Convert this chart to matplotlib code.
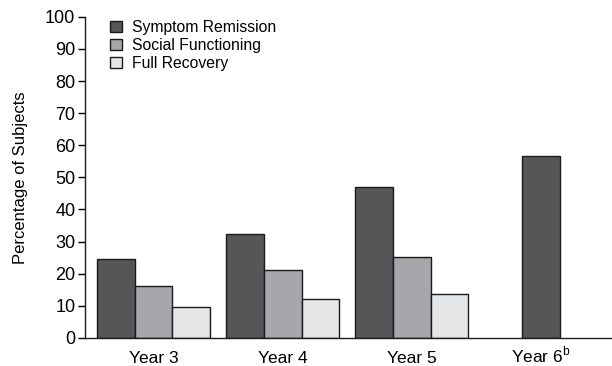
import numpy as np
import matplotlib
matplotlib.use('Agg')
import matplotlib.pyplot as plt

plt.rcParams['font.family'] = ['Liberation Sans', 'DejaVu Sans']
plt.rcParams['mathtext.fontset'] = 'custom'
plt.rcParams['mathtext.rm'] = 'Liberation Sans'

# data
years = ['Year 3', 'Year 4', 'Year 5', 'Year 6$^{\\rm b}$']
symptom = [24.7, 32.2, 47.0, 56.5]
social = [16.2, 21.2, 25.3, np.nan]
recovery = [9.7, 12.2, 13.6, np.nan]

series = [
    ('Symptom Remission', symptom, '#555658'),
    ('Social Functioning', social, '#a6a7aa'),
    ('Full Recovery', recovery, '#e4e5e7'),
]

fig = plt.figure(figsize=(6.12, 3.66), dpi=100)
ax = fig.add_axes([0.139, 0.077, 0.861, 0.877])

x = np.arange(len(years))
w = 0.292
for i, (name, vals, col) in enumerate(series):
    pos = x + (i - 1) * w
    # the last group only has one bar, keep it centred
    if i == 0:
        pos = pos.copy()
        pos[-1] = x[-1]
    ax.bar(pos, vals, w, color=col, edgecolor='#1a1a1a', linewidth=1.0, label=name)

ax.set_xlim(-0.531, 3.55)
ax.set_ylim(0, 100)
ax.set_yticks(range(0, 101, 10))
ax.set_xticks(x)
ax.set_xticklabels(years, fontsize=12.5)
for lbl in ax.get_xticklabels():
    lbl.set_verticalalignment('baseline')
ax.tick_params(axis='x', length=0, pad=18)
ax.tick_params(axis='y', length=5, width=1, labelsize=13, pad=2)
ax.set_ylabel('Percentage of Subjects', fontsize=12, labelpad=12)

for s in ['top', 'right']:
    ax.spines[s].set_visible(False)
for s in ['left', 'bottom']:
    ax.spines[s].set_linewidth(1)
    ax.spines[s].set_color('#1a1a1a')

ax.legend(loc='upper left', bbox_to_anchor=(0.02, 1.035), frameon=False,
          fontsize=11.3, handlelength=0.75, handleheight=0.75,
          handletextpad=0.7, labelspacing=0.2)

fig.savefig('out.png', dpi=100)
